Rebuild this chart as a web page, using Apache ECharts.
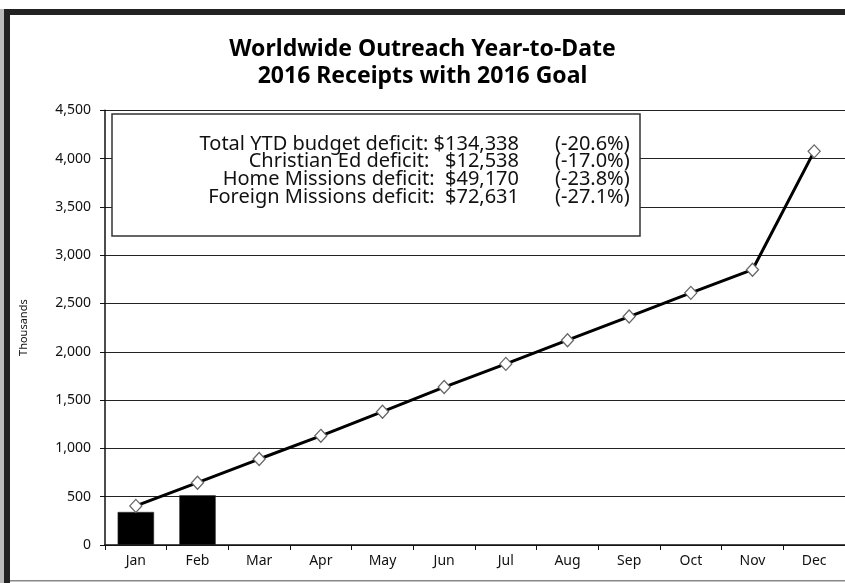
<!DOCTYPE html>
<html><head><meta charset="utf-8">
<script src="https://cdn.jsdelivr.net/npm/echarts@6/dist/echarts.min.js"></script>
<style>html,body{margin:0;padding:0;background:#fff}#c{width:845px;height:583px}</style>
</head><body><div id="c"></div>
<script>
var months = ['Jan','Feb','Mar','Apr','May','Jun','Jul','Aug','Sep','Oct','Nov','Dec'];
var receipts = [342, 515, null, null, null, null, null, null, null, null, null, null];
var goal = [405, 645, 890, 1130, 1380, 1635, 1875, 2120, 2365, 2610, 2850, 4075];
var titleLines = ['Worldwide Outreach Year-to-Date', '2016 Receipts with 2016 Goal'];
var deficitLabels = ['Total YTD budget deficit: $134,338', 'Christian Ed deficit:   $12,538', 'Home Missions deficit:  $49,170', 'Foreign Missions deficit:  $72,631'];
var deficitPcts = ['(-20.6%)', '(-17.0%)', '(-23.8%)', '(-27.1%)'];
var yName = 'Thousands';

var FONT = '"Noto Sans", "Open Sans", sans-serif';
var chart = echarts.init(document.getElementById('c'), null, {renderer: 'canvas'});

var graphics = [{
  type: 'rect', z: 100, shape: {x: 112, y: 114, width: 528, height: 122},
  style: {fill: '#fff', stroke: '#333', lineWidth: 1.5}
}];
deficitLabels.forEach(function (t, i) {
  graphics.push({type: 'text', z: 101, x: 519, y: 144 + i * 17.7,
    style: {text: t, font: '20px ' + FONT, fill: '#111', align: 'right', verticalAlign: 'middle'}});
  graphics.push({type: 'text', z: 101, x: 555, y: 144 + i * 17.7,
    style: {text: deficitPcts[i], font: '20px ' + FONT, fill: '#111', align: 'left', verticalAlign: 'middle'}});
});
graphics.push(
  {type: 'rect', z: 100, shape: {x: 4, y: 9, width: 6, height: 574}, style: {fill: '#222'}},
  {type: 'rect', z: 100, shape: {x: 4, y: 9, width: 841, height: 6}, style: {fill: '#222'}},
  {type: 'rect', z: 100, shape: {x: 0, y: 9, width: 4, height: 574}, style: {fill: '#bbb'}},
  {type: 'rect', z: 100, shape: {x: 10, y: 580, width: 835, height: 1.5}, style: {fill: '#888'}}
);

chart.setOption({
  animation: false,
  backgroundColor: '#fff',
  title: {
    text: titleLines.join('\n'), left: 'center', top: 31,
    textStyle: {fontFamily: FONT, fontWeight: 'bold', fontSize: 23, lineHeight: 27, color: '#000'}
  },
  grid: {left: 105, right: 0, top: 110.3, bottom: 38, containLabel: false},
  xAxis: {
    type: 'category', data: months, boundaryGap: true,
    axisLine: {lineStyle: {color: '#111', width: 1.5}},
    axisTick: {show: true, length: 5, lineStyle: {color: '#111'}},
    axisLabel: {fontFamily: FONT, fontSize: 14, color: '#111', margin: 9}
  },
  yAxis: {
    type: 'value', min: 0, max: 4500, interval: 500,
    name: yName, nameLocation: 'middle', nameGap: 76,
    nameTextStyle: {fontFamily: FONT, fontSize: 11, color: '#111'},
    axisLine: {show: true, lineStyle: {color: '#111', width: 1.5}},
    axisTick: {show: true, length: 5, lineStyle: {color: '#111'}},
    axisLabel: {fontFamily: FONT, fontSize: 14, color: '#111', margin: 14,
      formatter: function (v) { return v.toLocaleString('en-US'); }},
    splitLine: {lineStyle: {color: '#222', width: 1}}
  },
  series: [{
    type: 'bar', data: receipts, barWidth: '59%',
    itemStyle: {color: '#000', borderColor: '#333', borderWidth: 0.5}
  }, {
    type: 'line', data: goal, symbol: 'diamond', symbolSize: [12, 13],
    lineStyle: {color: '#000', width: 3},
    itemStyle: {color: '#fff', borderColor: '#666', borderWidth: 1.3},
    z: 3
  }],
  graphic: graphics
});
</script></body></html>
